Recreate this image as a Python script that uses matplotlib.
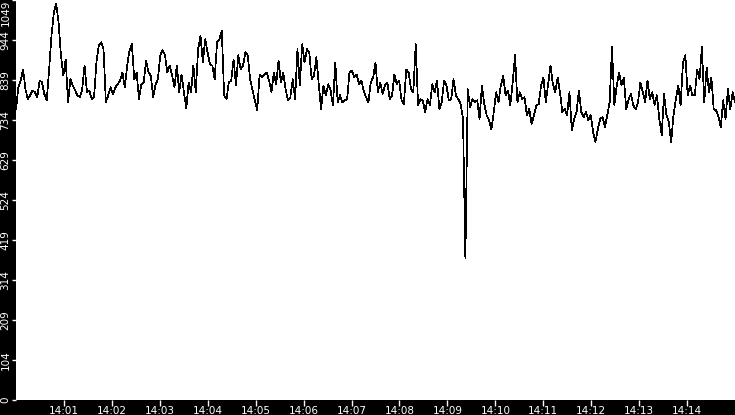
import numpy as np
import pandas as pd
import matplotlib
matplotlib.use("Agg")
import matplotlib.pyplot as plt
import matplotlib.dates as mdates
from matplotlib.transforms import ScaledTranslation

# ---- data ----
seg1 = [763, 820, 838, 867, 815, 789, 799, 812, 807, 794, 838, 833, 802, 786, 867, 956,
        1016, 1040, 990, 904, 851, 893, 781, 841, 825, 812, 799, 794, 815, 877, 807, 812,
        789, 794, 885, 930, 938, 920, 781, 799, 820, 802, 820, 828, 838, 859, 820, 877, 917]
seg2 = [933, 841, 859, 789, 828, 833, 890, 859, 851, 794, 828, 841, 904, 917, 904, 859,
        877, 851, 820, 877, 807, 854, 807, 765, 833, 807, 877, 807, 920, 956, 885, 946,
        912, 880, 877, 841, 938, 946, 969, 799, 789, 833, 838, 893, 825, 904, 867, 877]
seg3 = [912, 904, 841, 812, 786, 760, 854, 846, 854, 859, 838, 807, 859, 828, 890, 833,
        859, 815, 786, 794, 841, 789, 920, 825, 933, 885, 920, 912, 841, 851, 899, 828,
        763, 825, 799, 828, 812, 773, 885, 781, 799, 781, 786, 789, 859, 864, 846, 854]
seg4 = [828, 838, 812, 794, 781, 833, 846, 885, 807, 833, 802, 825, 833, 789, 799, 854,
        828, 838, 786, 776, 867, 859, 815, 807, 933, 773, 789, 786, 755, 789, 773, 828,
        807, 838, 763, 781, 838, 825, 786, 789, 841, 799, 789, 776, 737, 371, 815,
        768, 789]
seg5 = [781, 786, 737, 825, 776, 747, 734, 710, 755, 807, 781, 825, 851, 799, 812, 773,
        833, 904, 781, 807, 789, 794, 747, 763, 724, 747, 773, 776, 825, 846, 781, 828,
        877, 828, 807, 846, 807, 755, 763, 747, 807, 708, 737, 755, 812, 755, 742, 755,
        734, 747, 703, 677, 710]
seg6 = [737, 742, 716, 747, 781, 925, 773, 825, 859, 825, 846, 763, 789, 802, 773, 763,
        781, 833, 807, 781, 838, 789, 807, 773, 799, 737, 695, 802, 747, 729, 677, 747,
        789, 825, 773, 885, 904, 799, 825, 799, 799, 867, 841, 925, 781, 872, 807, 846,
        763, 760, 742, 716, 786, 737, 815, 763, 807, 781]

values = np.array(seg1 + seg2 + seg3 + seg4 + seg5 + seg6, dtype=float)
t_start = "2000-01-01 14:00:00"
t_end = "2000-01-01 14:15:00"
times = pd.date_range(t_start, t_end, periods=len(values))

y_max = 1049
y_tick_labels = ["0", "104", "209", "314", "419", "524", "629", "734", "839", "944", "1049"]
x_tick_times = pd.date_range("2000-01-01 14:01:00", "2000-01-01 14:14:00", freq="1min")

# ---- figure ----
W, H = 735, 415
fig = plt.figure(figsize=(W / 100, H / 100), dpi=100, facecolor="black")
ax = fig.add_axes([16 / W, 15 / H, 719 / W, 400 / H])
ax.set_facecolor("white")

ax.plot(times, values, color="black", lw=0.5, antialiased=False)

ax.set_xlim(pd.Timestamp(t_start), pd.Timestamp(t_end))
ax.set_ylim(0, y_max)

ax.set_yticks(np.linspace(0, y_max, len(y_tick_labels)))
ax.set_yticklabels(y_tick_labels)
ax.set_xticks(x_tick_times)
ax.xaxis.set_major_formatter(mdates.DateFormatter("%H:%M"))

for s in ax.spines.values():
    s.set_visible(False)

ax.tick_params(axis="both", colors="white", labelcolor="white", labelsize=7.5,
               width=1, direction="out")
ax.tick_params(axis="y", length=3, pad=1, labelrotation=90)
ax.tick_params(axis="x", length=4, pad=0.5)

for lab in ax.get_yticklabels():
    lab.set_family("DejaVu Sans")
    lab.set_verticalalignment("center")
for lab in ax.get_xticklabels():
    lab.set_family("DejaVu Sans")

# keep the top label inside the figure
top = ax.get_yticklabels()[-1]
top.set_transform(top.get_transform() + ScaledTranslation(0, -13 / 100, fig.dpi_scale_trans))

fig.savefig("out.png", dpi=100, facecolor="black")
